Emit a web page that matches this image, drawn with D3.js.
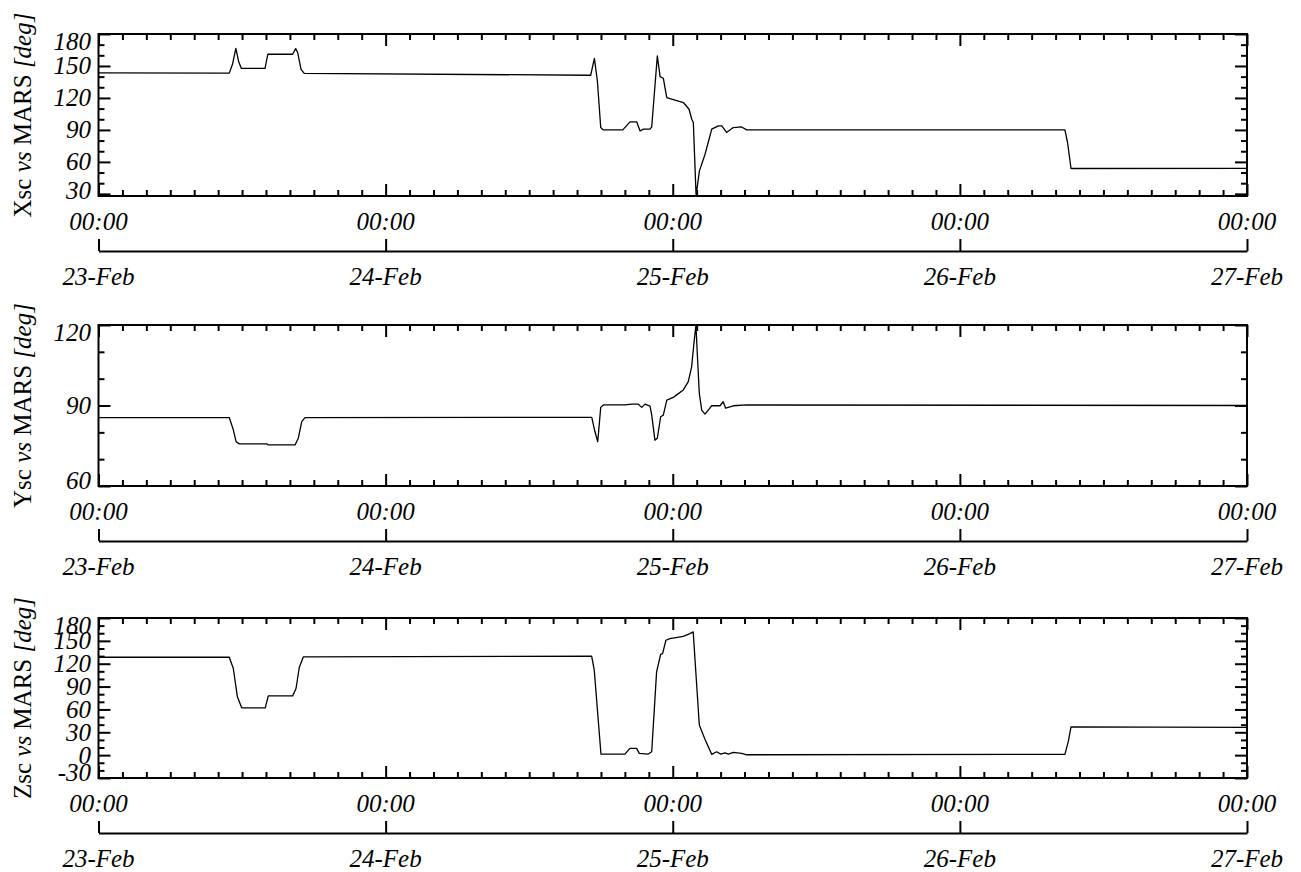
<!DOCTYPE html>
<html>
<head>
<meta charset="utf-8">
<script src="https://cdn.jsdelivr.net/npm/d3@7"></script>
<style>
  body { margin: 0; background: #fff; }
  text { font-family: "Liberation Serif", "Times New Roman", serif; font-size: 25px; fill: #000; }
</style>
</head>
<body>
<div id="chart"></div>
<script>
// hours since 23-Feb 00:00
const dayLabels = ["23-Feb", "24-Feb", "25-Feb", "26-Feb", "27-Feb"];
const hourLabel = "00:00";

const xscTime = [0, 10.93, 11.2, 11.48, 11.7, 11.93, 13.92, 14.15, 16.23, 16.48, 16.65, 16.93, 17.2,
  41.14, 41.45, 41.7, 41.98, 42.2, 43.82, 44.43, 44.99, 45.27, 45.54, 46.1, 46.24, 46.71, 46.94, 47.21,
  47.5, 48.05, 48.89, 49.36, 49.59, 49.72, 49.95, 50.23, 50.7, 51.26, 51.81, 52.1, 52.5, 53.06, 53.76,
  54.18, 80.78, 81.0, 81.29, 81.62, 96];
const xscDeg = [143.5, 143.3, 151.6, 166.5, 154.7, 147.8, 147.8, 161, 161, 166.3, 162.6, 146.9, 143,
  141.3, 157.2, 135.9, 92.2, 90, 90, 97.5, 97.5, 89, 90.7, 90.7, 92.8, 159.4, 140, 138.5,
  120.4, 118.5, 115.7, 109.4, 100, 97, 28.5, 51.6, 67.2, 90.7, 93.8, 93.8, 87.6, 92.2, 92.8,
  90, 90, 78.2, 53.8, 53.8, 54];

const yscTime = [0, 10.93, 11.27, 11.5, 11.77, 14.06, 14.2, 16.43, 16.7, 16.99, 17.26,
  41.23, 41.5, 41.73, 41.98, 42.2, 44.01, 44.57, 45.12, 45.41, 45.68, 46.1, 46.24, 46.51, 46.71,
  46.99, 47.21, 47.5, 48.05, 48.19, 48.88, 49.3, 49.58, 49.77, 49.94, 50.05, 50.22, 50.42, 50.7,
  50.97, 51.25, 51.95, 52.22, 52.42, 52.78, 53.06, 54.18, 96];
const yscDeg = [85.5, 85.5, 80.9, 76.5, 75.7, 75.7, 75.3, 75.3, 77.8, 84, 85.5,
  85.6, 80.2, 76.5, 89.3, 90.2, 90.2, 90.5, 90.5, 89.3, 90.5, 89.8, 86.5, 77.1, 77.8,
  85.8, 86.4, 92, 93, 93.5, 95.8, 98.9, 104.5, 113.2, 120, 109.5, 94.5, 88.3, 86.8,
  88.3, 89.9, 89.9, 91.4, 89, 89.5, 89.9, 90.2, 90];

const zscTime = [0, 10.93, 11.27, 11.61, 11.97, 13.94, 14.19, 16.23, 16.51, 16.78, 17.12,
  41.22, 41.44, 42.0, 44.0, 44.42, 44.98, 45.2, 45.95, 46.24, 46.65, 46.99, 47.15, 47.43, 47.76,
  48.88, 49.43, 49.71, 50.22, 50.7, 51.26, 51.67, 52.01, 52.37, 52.65, 53.06, 53.76, 54.18,
  80.78, 81.06, 81.29, 96];
const zscDeg = [128.5, 128.5, 113.7, 76.5, 62.1, 62.1, 77.8, 77.8, 87.5, 115, 128.9,
  130, 111.5, 1.4, 1.4, 8.9, 8.9, 2.3, 1.4, 4.4, 109.3, 132.4, 133.3, 150.8, 153,
  156, 159.5, 161.7, 39.5, 20.6, 1, 4.4, 1.4, 3.1, 1.4, 3.6, 2.3, 0.5,
  1, 17.7, 37.2, 36.5];

const xscTicks = [30, 60, 90, 120, 150, 180];
const yscTicks = [60, 90, 120];
const zscTicks = [-30, 0, 30, 60, 90, 120, 150, 180];

const width = 1301;
const height = 872;

const x = d3.scaleLinear()
  .domain([0, 96])
  .range([98.5, 1247]);

const svg = d3.select("#chart")
  .append("svg")
  .attr("width", width)
  .attr("height", height);

const panels = [
  { name: "Xsc", t: xscTime, v: xscDeg, domain: [28, 180], ticks: xscTicks, top: 34, h: 162 },
  { name: "Ysc", t: yscTime, v: yscDeg, domain: [60, 120], ticks: yscTicks, top: 325, h: 161 },
  { name: "Zsc", t: zscTime, v: zscDeg, domain: [-30, 180], ticks: zscTicks, top: 618, h: 160 }
];

const dayHours = d3.range(0, 97, 24);
const twoHours = d3.range(0, 97, 2).filter(h => h % 24 != 0);

panels.forEach(p => {
  const bottom = p.top + p.h;
  const y = d3.scaleLinear()
    .domain(p.domain)
    .range([bottom, p.top]);

  const g = svg.append("g");

  const tickAxis = (axis, tx, ty) => {
    g.append("g")
      .attr("transform", `translate(${tx},${ty})`)
      .call(axis.tickFormat(""))
      .call(s => s.select(".domain").remove())
      .call(s => s.selectAll("line").attr("stroke-width", 2));
  };

  // x ticks, top and bottom, pointing inward
  tickAxis(d3.axisBottom(x).tickValues(twoHours).tickSize(-6), 0, bottom);
  tickAxis(d3.axisBottom(x).tickValues(dayHours).tickSize(-12), 0, bottom);
  tickAxis(d3.axisTop(x).tickValues(twoHours).tickSize(-6), 0, p.top);
  tickAxis(d3.axisTop(x).tickValues(dayHours).tickSize(-12), 0, p.top);

  // y ticks, left and right
  const minorY = d3.range(Math.ceil(p.domain[0] / 10) * 10, p.domain[1] + 1, 10)
    .filter(v => !p.ticks.includes(v));
  tickAxis(d3.axisLeft(y).tickValues(minorY).tickSize(-6), 98.5, 0);
  tickAxis(d3.axisLeft(y).tickValues(p.ticks).tickSize(-12), 98.5, 0);
  tickAxis(d3.axisRight(y).tickValues(minorY).tickSize(-6), 1247, 0);
  tickAxis(d3.axisRight(y).tickValues(p.ticks).tickSize(-12), 1247, 0);

  // frame
  g.append("rect")
    .attr("x", x(0))
    .attr("y", p.top)
    .attr("width", x(96) - x(0))
    .attr("height", p.h)
    .attr("fill", "none")
    .attr("stroke", "#000")
    .attr("stroke-width", 2);

  // y labels, kept inside the frame
  g.selectAll(".ylab")
    .data(p.ticks)
    .enter()
    .append("text")
    .attr("class", "ylab")
    .attr("x", 91)
    .attr("y", d => Math.max(p.top + 7, Math.min(bottom - 6, y(d))) + 8.5)
    .attr("text-anchor", "end")
    .style("font-style", "italic")
    .text(d => d);

  // y title
  const title = g.append("text")
    .attr("transform", `translate(31,${p.top + p.h / 2}) rotate(-90)`)
    .attr("text-anchor", "middle");
  title.append("tspan").text(p.name + " ");
  title.append("tspan").style("font-style", "italic").text("vs");
  title.append("tspan").text(" MARS ");
  title.append("tspan").style("font-style", "italic").text("[deg]");

  // series
  const pts = p.t.map((t, i) => [t, p.v[i]]);
  g.append("path")
    .datum(pts)
    .attr("fill", "none")
    .attr("stroke", "#000")
    .attr("stroke-width", 1.3)
    .attr("stroke-linejoin", "round")
    .attr("d", d3.line().x(d => x(d[0])).y(d => y(d[1])));

  // hour labels
  g.selectAll(".hlab")
    .data(dayHours)
    .enter()
    .append("text")
    .attr("x", d => x(d))
    .attr("y", bottom + 25 + 8.5)
    .attr("text-anchor", "middle")
    .style("font-style", "italic")
    .text(hourLabel);

  // date axis
  g.append("g")
    .attr("transform", `translate(0,${bottom + 55})`)
    .call(d3.axisTop(x).tickValues(dayHours).tickSize(12).tickSizeOuter(0).tickFormat(""))
    .call(s => s.selectAll("line, path").attr("stroke-width", 2));

  g.selectAll(".dlab")
    .data(dayHours)
    .enter()
    .append("text")
    .attr("x", d => x(d))
    .attr("y", bottom + 80 + 8.5)
    .attr("text-anchor", "middle")
    .style("font-style", "italic")
    .text((d, i) => dayLabels[i]);
});
</script>
</body>
</html>
